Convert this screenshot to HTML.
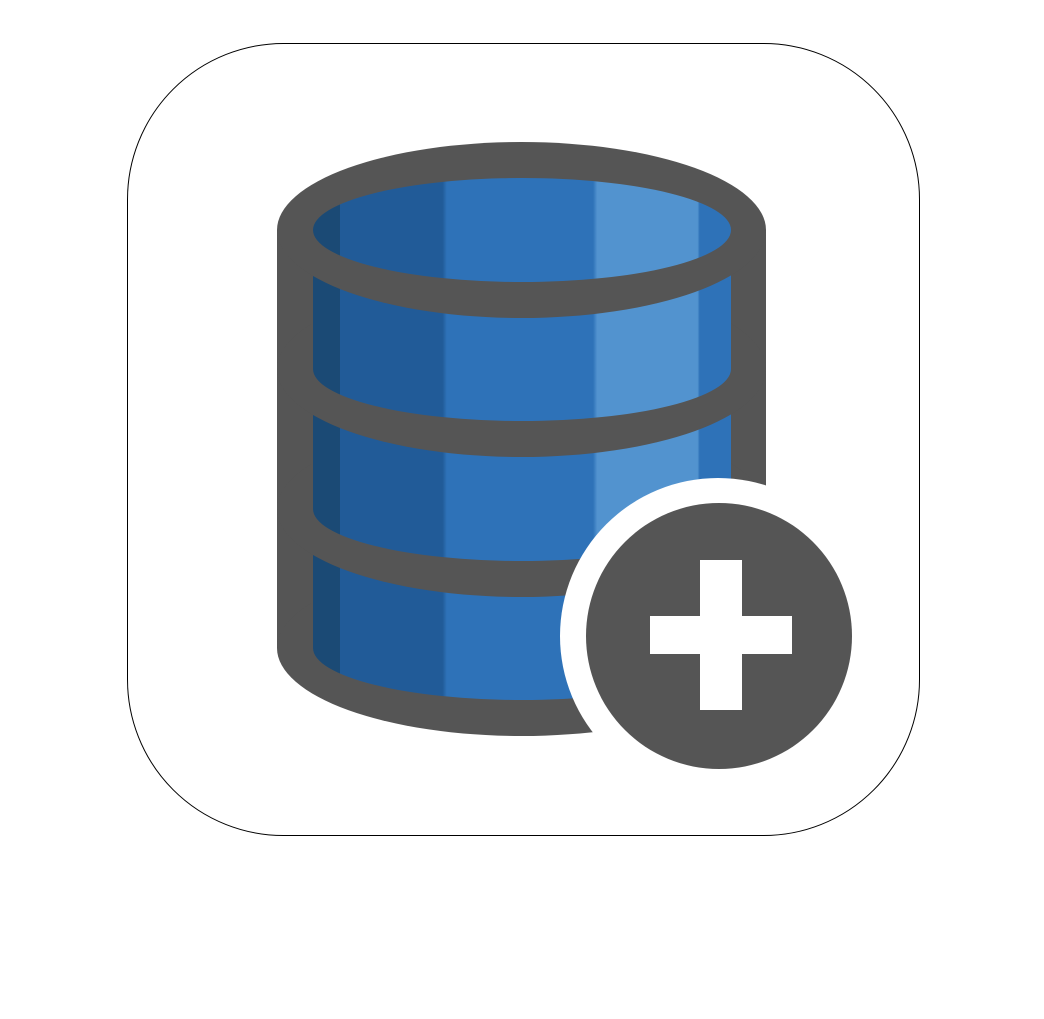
<!DOCTYPE html>
<html><head><meta charset="utf-8"><style>html,body{margin:0;padding:0;background:#fff}svg{display:block}</style></head>
<body>
<svg width="1044" height="1019" viewBox="0 0 1044 1019" xmlns="http://www.w3.org/2000/svg">
<defs>
<linearGradient id="g" x1="313" y1="0" x2="731" y2="0" gradientUnits="userSpaceOnUse">
<stop offset="0" stop-color="#1b4a75"/>
<stop offset="0.065" stop-color="#1b4a75"/>
<stop offset="0.065" stop-color="#215b98"/>
<stop offset="0.31" stop-color="#215b98"/>
<stop offset="0.32" stop-color="#2e72b8"/>
<stop offset="0.67" stop-color="#2e72b8"/>
<stop offset="0.68" stop-color="#5293cf"/>
<stop offset="0.92" stop-color="#5293cf"/>
<stop offset="0.925" stop-color="#2e72b8"/>
<stop offset="1" stop-color="#2e72b8"/>
</linearGradient>
</defs>
<rect x="127.5" y="43.5" width="792" height="792" rx="156" ry="156" fill="#fff" stroke="#000" stroke-width="1"/>
<g>
<rect x="277" y="230" width="489" height="418" fill="#555"/>
<ellipse cx="521.5" cy="648" rx="244.5" ry="88" fill="#555"/>
<!-- section 3 -->
<rect x="313" y="509" width="418" height="139" fill="url(#g)"/>
<ellipse cx="522" cy="648" rx="209" ry="52" fill="url(#g)"/>
<ellipse cx="521.5" cy="509" rx="244.5" ry="88" fill="#555"/>
<!-- section 2 -->
<rect x="313" y="369" width="418" height="140" fill="url(#g)"/>
<ellipse cx="522" cy="509" rx="209" ry="52" fill="url(#g)"/>
<ellipse cx="521.5" cy="369" rx="244.5" ry="88" fill="#555"/>
<!-- section 1 -->
<rect x="313" y="230" width="418" height="139" fill="url(#g)"/>
<ellipse cx="522" cy="369" rx="209" ry="52" fill="url(#g)"/>
<ellipse cx="521.5" cy="230" rx="244.5" ry="88" fill="#555"/>
<ellipse cx="522" cy="230" rx="209" ry="52" fill="url(#g)"/>
</g>
<circle cx="718" cy="636" r="158" fill="#fff"/>
<circle cx="719" cy="636" r="133" fill="#555"/>
<rect x="650" y="616" width="142" height="38" fill="#fff"/>
<rect x="700" y="560" width="42" height="150" fill="#fff"/>
</svg>
</body></html>
